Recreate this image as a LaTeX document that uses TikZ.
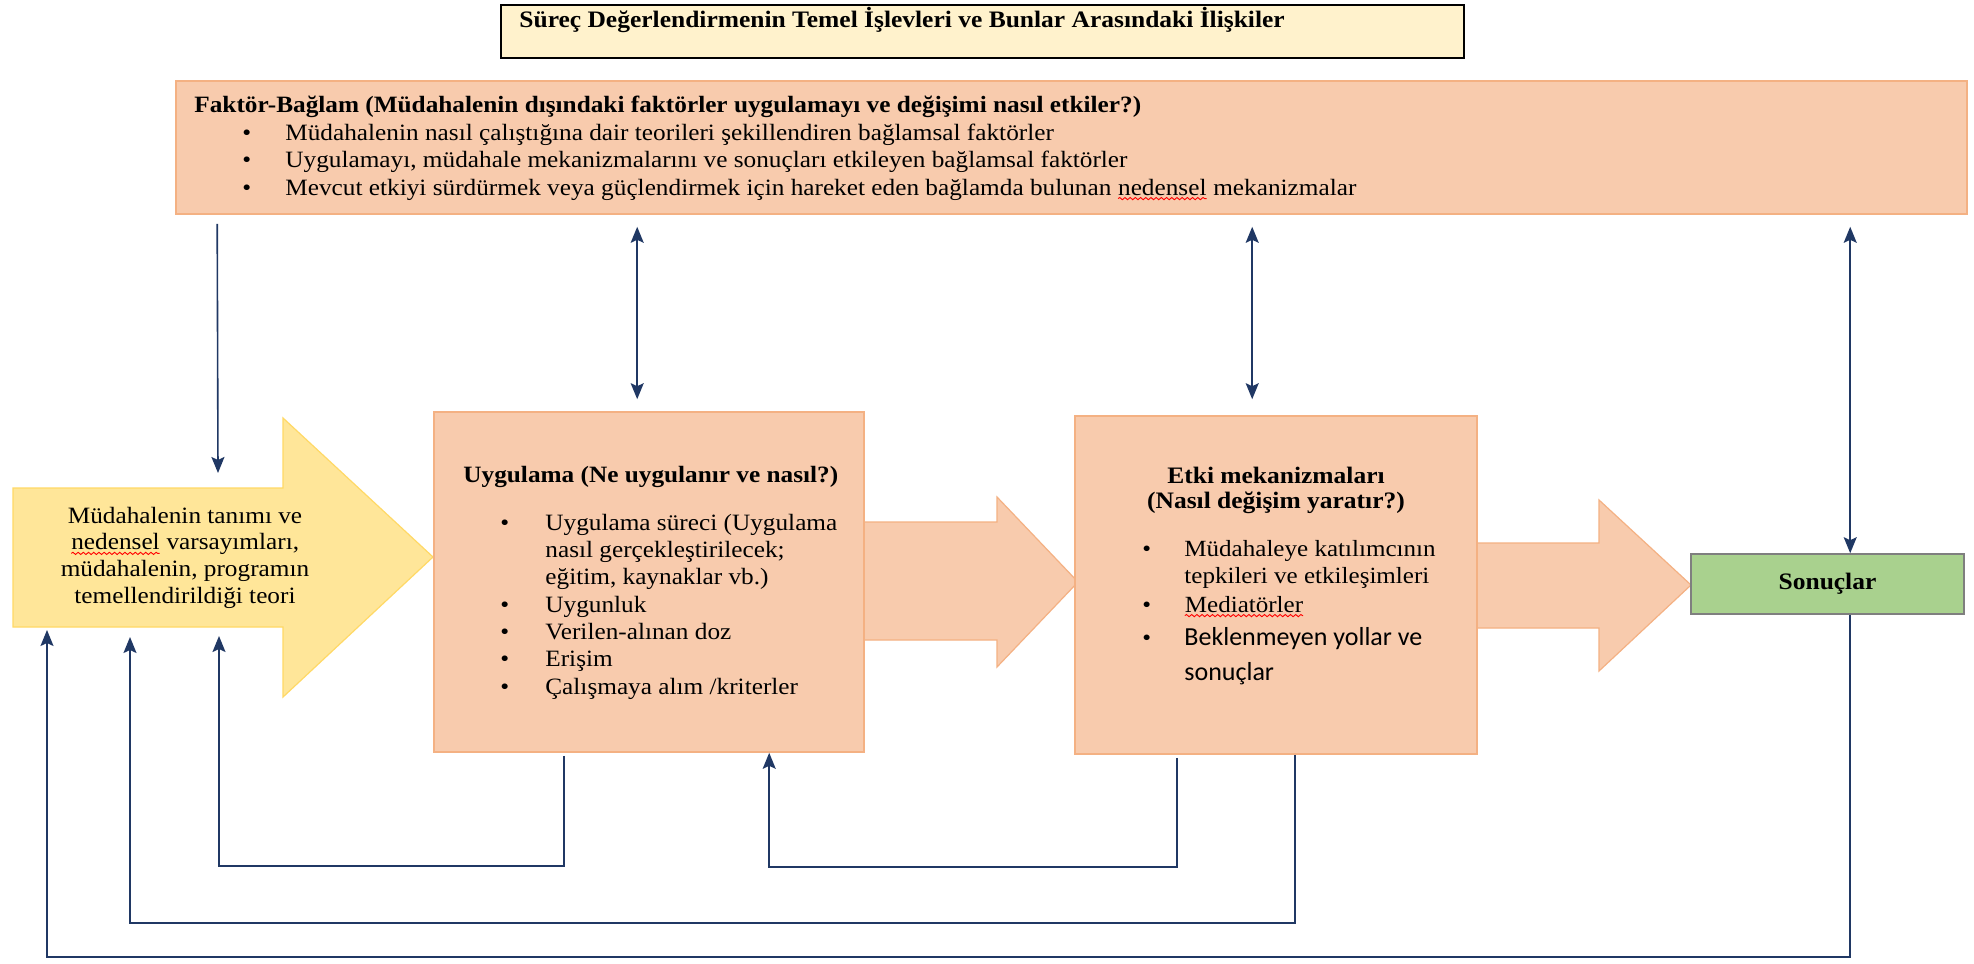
\documentclass[tikz,border=0pt]{standalone}
\usepackage{fontspec}
\setmainfont{Liberation Serif}[FakeStretch=1.08]
\newfontfamily\calib{Carlito}
\usetikzlibrary{arrows.meta,calc,decorations.pathmorphing}
\definecolor{peach}{HTML}{F8CBAD}
\definecolor{peachline}{HTML}{F4B183}
\definecolor{yel}{HTML}{FFE699}
\definecolor{yelline}{HTML}{FFD966}
\definecolor{cream}{HTML}{FFF2CC}
\definecolor{grn}{HTML}{A9D18E}
\definecolor{grnline}{HTML}{7F7F7F}
\definecolor{navy}{HTML}{203864}
\newcommand\redwave[1]{\tikz[baseline=(w.base)]{\node[inner sep=0pt,outer sep=0pt,anchor=base](w){#1};\draw[red,line width=0.45pt,decorate,decoration={snake,amplitude=0.55pt,segment length=2.6pt}] ([yshift=-1.8pt]w.base west) -- ([yshift=-1.8pt]w.base east);}}
\newcommand\bitem[3]{\makebox[#2][l]{\hspace{#1}\textbullet}#3}
\newcommand\cont[2]{\hspace*{#1}#2}
\begin{document}
\begin{tikzpicture}[x=0.5pt,y=-0.5pt,
  box/.style={draw=peachline, fill=peach, line width=0.8pt, inner sep=0pt},
  bigarrow/.style={draw=peachline, fill=peach, line width=0.6pt},
  txt/.style={inner sep=0pt, text=black},
  conn/.style={draw=navy, line width=0.8pt},
  tip/.style={-{Stealth[length=8pt,width=6.5pt,inset=1.5pt]}},
  dbl/.style={{Stealth[length=8pt,width=6.5pt,inset=1.5pt]}-{Stealth[length=8pt,width=6.5pt,inset=1.5pt]}}]
\useasboundingbox (0,0) rectangle (1974,963);
\fill[white] (0,0) rectangle (1974,963);

% big block arrows
\path[draw=yelline, fill=yel, line width=0.6pt] (13,488) -- (283,488) -- (283,418) -- (433,557) -- (283,697) -- (283,627) -- (13,627) -- cycle;
\path[bigarrow] (864,522) -- (997,522) -- (997,497) -- (1078,582) -- (997,667) -- (997,640) -- (864,640) -- cycle;
\path[bigarrow] (1477,543) -- (1599,543) -- (1599,500) -- (1691,585) -- (1599,671) -- (1599,628) -- (1477,628) -- cycle;
\coordinate (yaTop) at (13,488);
\coordinate (yaBot) at (13,627);

% boxes
\node[draw=black, line width=0.8pt, fill=cream, minimum width=481.5pt, minimum height=26.5pt, inner sep=0pt] (title) at (982.5,31.5) {};
\node[box, minimum width=895.5pt, minimum height=66.5pt] (fak) at (1071.5,147.5) {};
\node[box, minimum width=215pt, minimum height=170pt] (uyg) at (649,582) {};
\node[box, minimum width=201pt, minimum height=169pt] (etk) at (1276,585) {};
\node[draw=grnline, fill=grn, line width=0.8pt, inner sep=0pt, minimum width=136.5pt, minimum height=30pt, font=\bfseries\fontsize{11.8}{13}\selectfont] (son) at (1827.5,584) {Sonuçlar};

% texts
\node[txt, anchor=base west, font=\bfseries\fontsize{11.8}{13}\selectfont] (titletxt) at (519,28) {Süreç Değerlendirmenin Temel İşlevleri ve Bunlar Arasındaki İlişkiler};

\node[txt, align=left, anchor=base west, font=\fontsize{11.7}{13.7}\selectfont] (faktxt) at (194,195) {{\fontsize{11.7}{13.7}\selectfont\bfseries Faktör-Bağlam (Müdahalenin dışındaki faktörler uygulamayı ve değişimi nasıl etkiler?)}\\
\bitem{24pt}{45.5pt}{Müdahalenin nasıl çalıştığına dair teorileri şekillendiren bağlamsal faktörler}\\
\bitem{24pt}{45.5pt}{Uygulamayı, müdahale mekanizmalarını ve sonuçları etkileyen bağlamsal faktörler}\\
\bitem{24pt}{45.5pt}{Mevcut etkiyi sürdürmek veya güçlendirmek için hareket eden bağlamda bulunan \redwave{nedensel} mekanizmalar}};

\node[txt, align=center, anchor=base, font=\fontsize{11.7}{13.3}\selectfont] (yeltxt) at (185,603) {Müdahalenin tanımı ve\\ \redwave{nedensel} varsayımları,\\ müdahalenin, programın\\ temellendirildiği teori};

\node[txt, align=left, anchor=base west, font=\fontsize{11.7}{13.65}\selectfont] (uygtxt) at (463,694) {{\fontsize{11.7}{13.65}\selectfont\bfseries Uygulama (Ne uygulanır ve nasıl?)}\\[10.35pt]
\bitem{18.5pt}{41pt}{Uygulama süreci (Uygulama}\\
\cont{41pt}{nasıl gerçekleştirilecek;}\\
\cont{41pt}{eğitim, kaynaklar vb.)}\\
\bitem{18.5pt}{41pt}{Uygunluk}\\
\bitem{18.5pt}{41pt}{Verilen-alınan doz}\\
\bitem{18.5pt}{41pt}{Erişim}\\
\bitem{18.5pt}{41pt}{Çalışmaya alım /kriterler}};

\node[txt, align=center, anchor=base, font=\bfseries\fontsize{11.8}{12.5}\selectfont] (etktitle) at (1276,508) {Etki mekanizmaları\\ (Nasıl değişim yaratır?)};

\node[txt, align=left, anchor=base west, font=\fontsize{11.6}{13.5}\selectfont] (etktxt) at (1142,680) {\bitem{0pt}{21pt}{Müdahaleye katılımcının}\\
\cont{21pt}{tepkileri ve etkileşimleri}\\[1pt]
\bitem{0pt}{21pt}{\redwave{Mediatörler}}\\[3pt]
\bitem{0pt}{21pt}{\calib\fontsize{13}{13.5}\selectfont Beklenmeyen yollar ve}\\[4pt]
\cont{21pt}{\calib\fontsize{13}{13.5}\selectfont sonuçlar}};

% connectors
\draw[conn, tip] ($(fak.south west)+(42,9)$) -- ($(yaTop)+(205,-15)$);
\draw[conn, dbl] ($(fak.south west)+(462,12)$) -- ($(uyg.north west)+(204,-12)$);
\draw[conn, dbl] ($(fak.south west)+(1077,12)$) -- ($(etk.north west)+(178,-16)$);
\draw[conn, dbl] ($(fak.south west)+(1675,12)$) -- ($(son.north west)+(160,0)$);

\draw[conn, tip] ($(son.south west)+(160,0)$) -- ++(0,342) -| ($(yaBot)+(34,3)$);
\draw[conn, tip] ($(etk.south west)+(221,0)$) -- ++(0,168) -| ($(yaBot)+(117,10)$);
\draw[conn, tip] ($(uyg.south west)+(131,3)$) -- ++(0,110) -| ($(yaBot)+(206,9)$);
\draw[conn, tip] ($(etk.south west)+(103,3)$) -- ++(0,109) -| ($(uyg.south west)+(336,0)$);
\end{tikzpicture}
\end{document}
